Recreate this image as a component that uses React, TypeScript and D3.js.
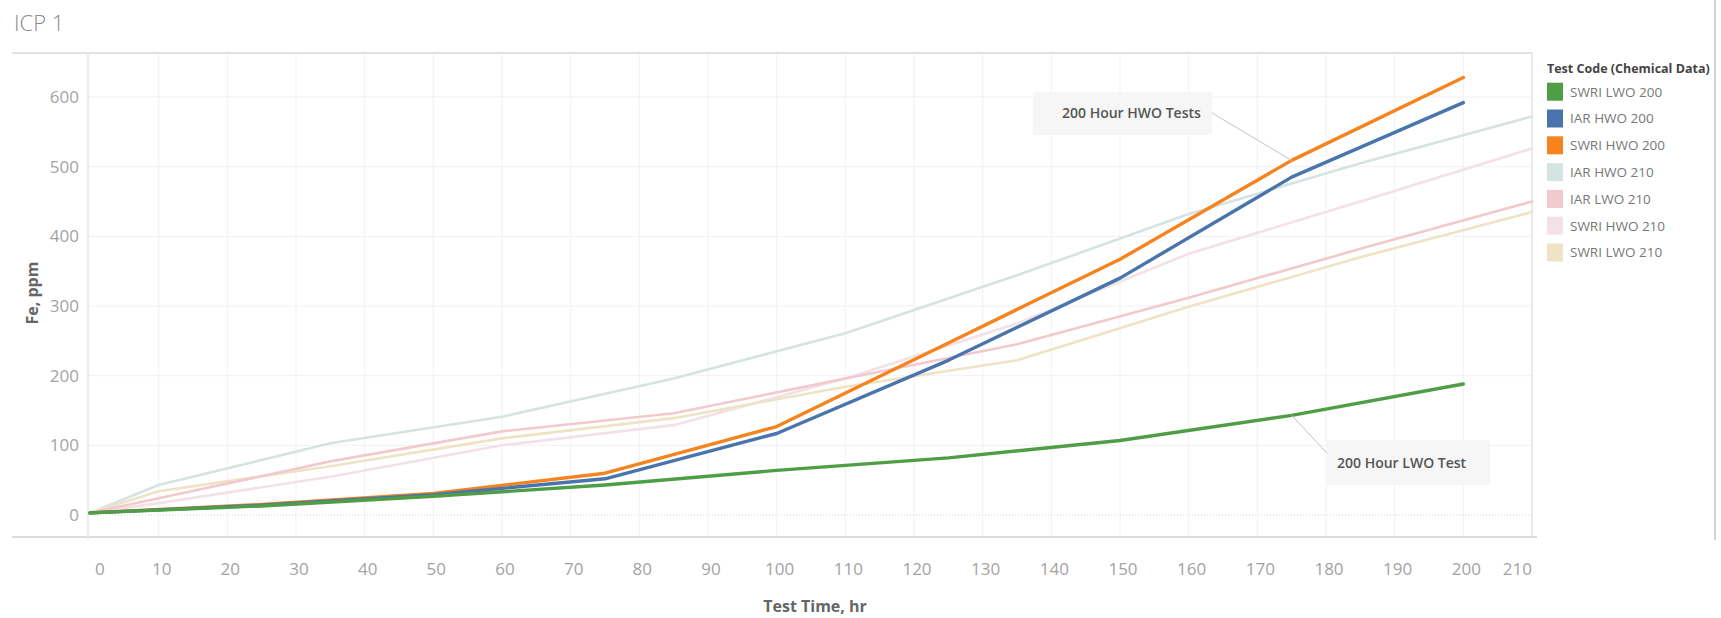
import React from 'react';
import * as d3 from 'd3';

// sample hours
const hours200 = [0, 25, 50, 75, 100, 125, 150, 175, 200];
const hours210 = [0, 10, 35, 60, 85, 110, 135, 160, 185, 210];

// Fe, ppm
const swriLwo200 = [3, 13, 27, 43, 64, 82, 107, 143, 188];
const iarHwo200 = [3, 14, 29, 52, 117, 222, 340, 485, 592];
const swriHwo200 = [3, 15, 31, 60, 127, 247, 367, 509, 628];
const iarHwo210 = [3, 43, 103, 141, 196, 261, 344, 432, 505, 572];
const iarLwo210 = [3, 24, 77, 120, 146, 196, 245, 312, 382, 450];
const swriHwo210 = [3, 17, 55, 100, 129, 196, 275, 375, 450, 526];
const swriLwo210 = [3, 34, 70, 110, 139, 184, 222, 299, 370, 435];

const legendNames = ['SWRI LWO 200', 'IAR HWO 200', 'SWRI HWO 200', 'IAR HWO 210', 'IAR LWO 210', 'SWRI HWO 210', 'SWRI LWO 210'];
const legendColors = ['#4f9e45', '#4a74ad', '#f5841f', '#d5e4e2', '#f2c9cd', '#f3e1e8', '#eee3c4'];

const xTicks = d3.range(0, 211, 10);
const yTicks = [0, 100, 200, 300, 400, 500, 600];

const W = 1721;
const H = 618;
const FONT = '"Open Sans", sans-serif';

export default function App() {
  const left = 88, right = 1532, top = 53, bottom = 537;

  const x = d3.scaleLinear().domain([0, 210]).range([90, 1532]);
  const y = d3.scaleLinear().domain([0, 600]).range([515, 97]);

  const line = d3.line<[number, number]>()
    .x(d => x(d[0]))
    .y(d => y(d[1]));

  const pts = (hrs: number[], vals: number[]) => hrs.map((h, i) => [h, vals[i]] as [number, number]);

  // faded ones first, then the 200 hour tests on top
  const series = [
    { vals: iarHwo210, hrs: hours210, color: legendColors[3], w: 2.6 },
    { vals: swriHwo210, hrs: hours210, color: legendColors[5], w: 2.6 },
    { vals: swriLwo210, hrs: hours210, color: legendColors[6], w: 2.6 },
    { vals: iarLwo210, hrs: hours210, color: legendColors[4], w: 2.6 },
    { vals: swriHwo200, hrs: hours200, color: legendColors[2], w: 3.4 },
    { vals: iarHwo200, hrs: hours200, color: legendColors[1], w: 3.4 },
    { vals: swriLwo200, hrs: hours200, color: legendColors[0], w: 3.4 },
  ];

  const tickX = (t: number) => {
    if (t === 0) return { x: x(t) + 5, anchor: 'start' };
    if (t === 210) return { x: x(t), anchor: 'end' };
    return { x: x(t) + 3, anchor: 'middle' };
  };

  // annotation anchors
  const hwoPt = [x(175), y(swriHwo200[7])];
  const lwoPt = [x(175), y(swriLwo200[7])];

  return (
    <svg width={W} height={H} style={{ position: 'absolute', left: 0, top: 0, background: '#fff' }} fontFamily={FONT}>
      <text x={14} y={31} fontSize={22} fill="#8a8a8a" fontWeight={300}>ICP 1</text>

      {/* grid */}
      {yTicks.slice(1).map(t => (
        <line key={'gy' + t} x1={left} x2={right} y1={y(t)} y2={y(t)} stroke="#f1f1f1" strokeWidth={1} />
      ))}
      {xTicks.slice(1).map(t => (
        <line key={'gx' + t} x1={x(t)} x2={x(t)} y1={top} y2={bottom} stroke="#f1f1f1" strokeWidth={1} />
      ))}
      <line x1={left} x2={right} y1={y(0)} y2={y(0)} stroke="#d4d4d4" strokeWidth={1} strokeDasharray="1,2" />

      {/* frame */}
      <line x1={12} x2={right} y1={top} y2={top} stroke="#e2e2e2" strokeWidth={2} />
      <line x1={12} x2={1537} y1={bottom} y2={bottom} stroke="#dcdcdc" strokeWidth={2} />
      <line x1={left} x2={left} y1={top} y2={bottom + 3} stroke="#e6e6e6" strokeWidth={1.5} />
      <line x1={right} x2={right} y1={top} y2={bottom} stroke="#e6e6e6" strokeWidth={1.5} />
      <line x1={1715} x2={1715} y1={0} y2={540} stroke="#c4c4c4" strokeWidth={1.5} />

      {/* axis labels */}
      {yTicks.map(t => (
        <text key={'ly' + t} x={79} y={y(t)} dy="0.36em" textAnchor="end" fontSize={17} fill="#a3a3a3">{t}</text>
      ))}
      {xTicks.map(t => {
        const p = tickX(t);
        return <text key={'lx' + t} x={p.x} y={569} dy="0.36em" textAnchor={p.anchor} fontSize={17} fill="#a3a3a3">{t}</text>;
      })}
      <text x={815} y={606} dy="0.36em" textAnchor="middle" fontSize={16} fontWeight={700} fill="#666">Test Time, hr</text>
      <text transform="translate(32,293) rotate(-90)" dy="0.36em" textAnchor="middle" fontSize={16} fontWeight={700} fill="#666">Fe, ppm</text>

      {/* series */}
      {series.map((s, i) => (
        <path key={i} d={line(pts(s.hrs, s.vals)) || ''} fill="none" stroke={s.color} strokeWidth={s.w} strokeLinejoin="round" strokeLinecap="round" />
      ))}

      {/* annotations */}
      <line x1={1212} y1={113} x2={hwoPt[0]} y2={hwoPt[1]} stroke="#c4c4c4" strokeWidth={1} />
      <rect x={1033} y={92} width={179} height={43} fill="#f6f6f6" />
      <text x={1062} y={113} dy="0.36em" fontSize={14} fontWeight={600} fill="#555">200 Hour HWO Tests</text>

      <line x1={lwoPt[0]} y1={lwoPt[1]} x2={1327} y2={453} stroke="#c4c4c4" strokeWidth={1} />
      <rect x={1327} y={440} width={163} height={45} fill="#f6f6f6" />
      <text x={1337} y={463} dy="0.36em" fontSize={14} fontWeight={600} fill="#555">200 Hour LWO Test</text>

      {/* legend */}
      <text x={1547} y={68} dy="0.36em" fontSize={12.5} fontWeight={700} fill="#444">Test Code (Chemical Data)</text>
      {legendNames.map((n, i) => (
        <g key={n} transform={`translate(1547,${91.7 + i * 26.8})`}>
          <rect x={0} y={-9} width={16} height={18} fill={legendColors[i]} />
          <text x={23} y={0} dy="0.36em" fontSize={13.5} fill="#777">{n}</text>
        </g>
      ))}
    </svg>
  );
}
